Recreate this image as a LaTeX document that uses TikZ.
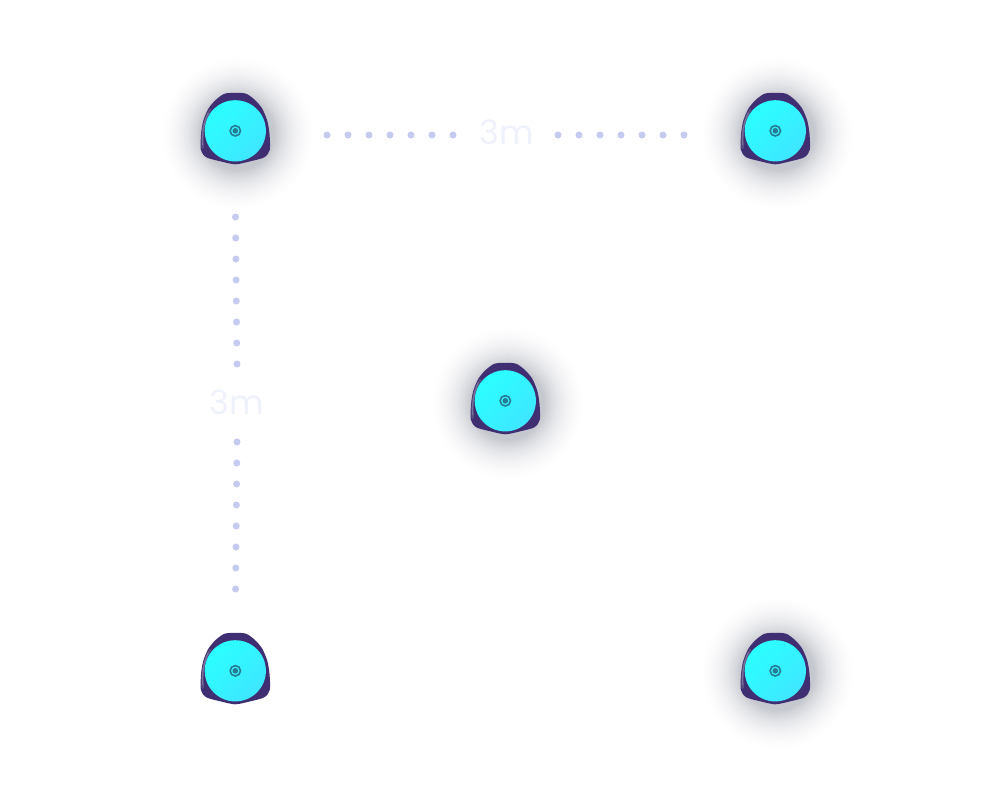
\documentclass[tikz,border=0pt]{standalone}
\usepackage{fontspec}
\setmainfont{Poppins}
\definecolor{dotc}{HTML}{C5CAF0}
\definecolor{labelc}{HTML}{F0F2FB}
\definecolor{bodyc}{HTML}{3F2F72}
\definecolor{rimc}{HTML}{7A7198}
\definecolor{rimd}{HTML}{574B80}
\definecolor{cyanA}{HTML}{2BFFFF}
\definecolor{cyanB}{HTML}{3EE6FF}
\definecolor{ringc}{HTML}{267C92}
\definecolor{glowA}{HTML}{C6C8CF}
\definecolor{glowB}{HTML}{D6D8DD}
\definecolor{glowC}{HTML}{E6E7EA}
\definecolor{glowD}{HTML}{F3F3F5}
\definecolor{glowE}{HTML}{FBFBFC}
\pgfdeclareradialshading{devglow}{\pgfpoint{0bp}{0bp}}{%
  color(0bp)=(glowA);
  color(12bp)=(glowA);
  color(14bp)=(glowB);
  color(16.5bp)=(glowC);
  color(19.5bp)=(glowD);
  color(22.5bp)=(glowE);
  color(25bp)=(white);
  color(50bp)=(white)}
\tikzset{
  x=1pt,y=-1pt,
  dotmark/.style={circle,fill=dotc,inner sep=0pt,minimum size=7pt},
  dimlabel/.style={text=labelc,font=\fontsize{33.5}{33.5}\selectfont,inner sep=0pt,anchor=base},
  pics/device/.style={code={
    \fill[bodyc] plot[smooth cycle,tension=0.45] coordinates {
      (-11,-37) (0,-38) (11,-37) (20,-30.5) (27,-22) (32,-10) (34.2,3) (34.5,19) (29,26.5)
      (15,30.5) (0,33.5) (-15,30.5) (-29,26.5) (-34.5,19) (-34.2,3) (-32,-10) (-27,-22) (-20,-30.5)};
    \draw[rimd,line width=2.4pt,line cap=round] (-32.6,17) .. controls (-33.5,3) and (-32,-10) .. (-25,-21);
    \draw[rimc,line width=1.2pt,line cap=round] (-32.6,14) .. controls (-33.2,3) and (-32,-8) .. (-27,-18);
    \shade[left color=cyanA,right color=cyanB,shading angle=45] (0,0) circle (30.6);
    \draw[ringc,line width=1.6pt] (0,0) circle (5.2);
    \fill[ringc] (0,0) circle (2.8);
  }}
}
\begin{document}
\begin{tikzpicture}
\useasboundingbox (0,0) rectangle (987,807);
\fill[white] (0,0) rectangle (987,807);
\coordinate (tl) at (235.3,130.8);
\coordinate (tr) at (775.3,130.8);
\coordinate (mid) at (505.3,400.8);
\coordinate (bl) at (235.3,670.8);
\coordinate (br) at (775.3,670.8);
\foreach \c in {tl,tr,mid,br}
  \shade[shading=devglow] ([shift={(2,2)}]\c) circle (76);
\foreach \c in {tl,tr,mid,bl,br}
  \pic at (\c) {device};
\foreach \x [count=\i] in {327,348,369,390,411,432,453,558,579,600,621,642,663,684}
  \node[dotmark] (h\i) at (\x,135) {};
\foreach \y/\x [count=\i] in {217/235.5,238/235.7,259/235.9,280/236.1,301/236.3,322/236.5,343/236.7,364/237,442/237,463/236.8,484/236.6,505/236.4,526/236.2,547/236,568/235.8,589/235.6}
  \node[dotmark] (v\i) at (\x,\y) {};
\node[dimlabel] (lh) at (506.5,144.5) {3m};
\node[dimlabel] (lv) at (236.5,414.5) {3m};
\end{tikzpicture}
\end{document}
